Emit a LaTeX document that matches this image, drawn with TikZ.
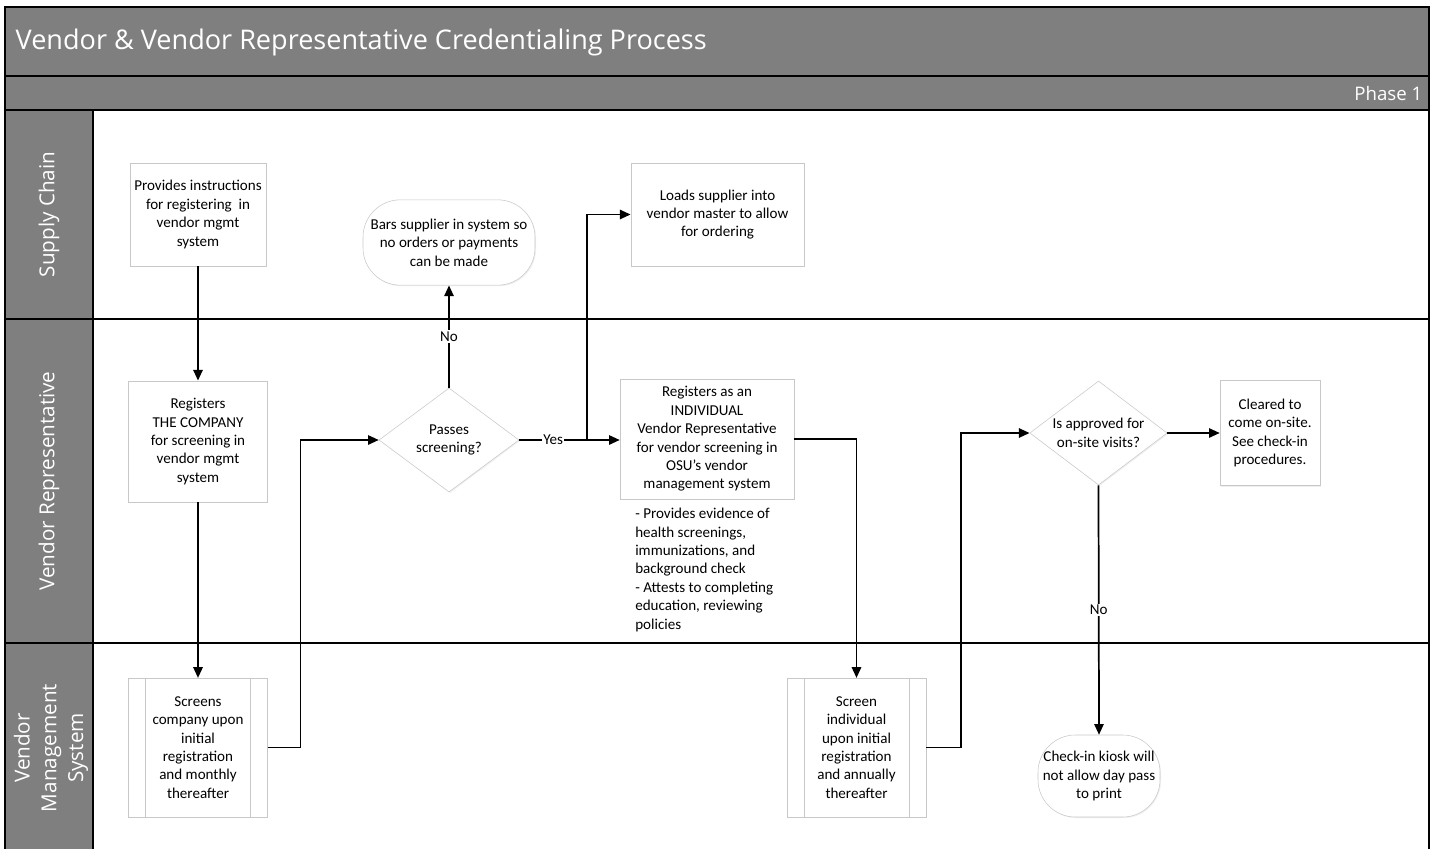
\documentclass[tikz,border=0pt]{standalone}
\usepackage{fontspec}
\setmainfont{Carlito}
\newfontfamily\lanefont{Open Sans}
\usetikzlibrary{arrows.meta, shapes.geometric, shadows}
\definecolor{hdrgray}{RGB}{127,127,127}
\definecolor{boxline}{RGB}{200,200,200}

\begin{document}
\begin{tikzpicture}[x=0.75pt, y=-0.75pt,
	box/.style={draw=boxline, fill=white, inner sep=2pt, align=center, font=\fontsize{11.3}{13.8}\selectfont, drop shadow={shadow xshift=0.8pt, shadow yshift=-0.8pt, fill=black!12}},
	stadium/.style={box, rounded corners=28pt},
	decision/.style={box, diamond, inner sep=0pt},
	inside/.style={align=center, font=\fontsize{11.3}{13.8}\selectfont},
	flow/.style={line width=1.3pt, -{Triangle[length=8pt, width=7pt]}},
	lbl/.style={fill=white, inner sep=1pt, font=\fontsize{11.3}{13}\selectfont},
	lane/.style={text=white, rotate=90, align=center, font=\lanefont\fontsize{15.5}{20}\selectfont}]
	\useasboundingbox (0,0) rectangle (1435,849);

	% bands and lanes
	\fill[hdrgray] (5,7) rectangle (1429,110);
	\fill[hdrgray] (5,110) rectangle (93,855);
	\draw[line width=1.3pt] (5,7) rectangle (1429,855);
	\draw[line width=1.3pt] (5,76) -- (1429,76);
	\draw[line width=1.3pt] (5,110) -- (1429,110);
	\draw[line width=1.3pt] (5,319) -- (1429,319);
	\draw[line width=1.3pt] (5,643) -- (1429,643);
	\draw[line width=1.3pt] (93,110) -- (93,855);

	\node[anchor=west, text=white, font=\lanefont\fontsize{20.3}{24}\selectfont] (title) at (11,42) {Vendor \& Vendor Representative Credentialing Process};
	\node[anchor=east, text=white, font=\lanefont\fontsize{14}{17}\selectfont] (phase) at (1427,93) {Phase 1};
	\node[lane] (supply) at (49,214.5) {Supply Chain};
	\node[lane] (vendrep) at (49,481) {Vendor Representative};
	\node[lane] (vms) at (51,748) {Vendor\\Management\\System};

	% steps
	\node[box, minimum width=102pt, minimum height=77pt] (instr) at (198,214.5) {Provides instructions\\for registering\ \ in\\vendor mgmt\\system};
	\node[stadium, minimum width=129pt, minimum height=64pt] (bars) at (449,242.5) {Bars supplier in system so\\no orders or payments\\can be made};
	\node[box, minimum width=130pt, minimum height=77pt] (loads) at (717.5,214.5) {Loads supplier into\\vendor master to allow\\for ordering};
	\node[box, minimum width=104pt, minimum height=91pt] (regco) at (198,441.5) {Registers\\THE COMPANY\\for screening in\\vendor mgmt\\system};
	\node[decision, minimum width=105pt, minimum height=78pt, label={[inside]center:Passes\\screening?}] (passes) at (449,440) {};
	\node[box, minimum width=130.5pt, minimum height=90pt] (regind) at (707,439) {Registers as an\\INDIVIDUAL\\Vendor Representative\\for vendor screening in\\OSU’s vendor\\management system};
	\node[anchor=north west, align=left, inner sep=0pt, font=\fontsize{11.3}{13.8}\selectfont] (note) at (635,508) {- Provides evidence of\\health screenings,\\immunizations, and\\background check\\- Attests to completing\\education, reviewing\\policies};
	\node[decision, minimum width=103pt, minimum height=78pt, label={[inside]center:Is approved for\\on-site visits?}] (approved) at (1098.5,433) {};
	\node[box, minimum width=75pt, minimum height=79pt] (cleared) at (1270,433) {Cleared to\\come on-site.\\See check-in\\procedures.};
	\node[box, minimum width=104pt, minimum height=104pt] (screenco) at (198,747.5) {Screens\\company upon\\initial\\registration\\and monthly\\thereafter};
	\node[box, minimum width=104pt, minimum height=104pt] (screenind) at (856.5,747.5) {Screen\\individual\\upon initial\\registration\\and annually\\thereafter};
	\node[stadium, minimum width=91.5pt, minimum height=61.5pt] (kiosk) at (1099,776) {Check-in kiosk will\\not allow day pass\\to print};
	\foreach \n in {screenco, screenind} {
		\draw[boxline] ([xshift=12.75pt]\n.north west) -- ([xshift=12.75pt]\n.south west);
		\draw[boxline] ([xshift=-12.75pt]\n.north east) -- ([xshift=-12.75pt]\n.south east);
	}

	% connectors
	\coordinate (split) at (587,440);
	\draw[flow] (instr) -- (regco);
	\draw[flow] (regco) -- (screenco);
	\draw[flow] (screenco.east) -- ++(33,0) |- (passes.west);
	\draw[flow] (passes.north) -- node[lbl] {No} (bars.south);
	\draw[line width=1.3pt] (passes.east) -- node[lbl] {Yes} (split);
	\draw[flow] (split) -- (regind.west |- split);
	\draw[flow] (split) |- (loads.west);
	\draw[flow] (regind.east) -| (screenind.north);
	\draw[flow] (screenind.east) -- ++(35,0) |- (approved.west);
	\draw[flow] (approved.east) -- (cleared.west);
	\draw[flow] (approved.south) -- node[lbl] {No} (kiosk.north);
\end{tikzpicture}
\end{document}
